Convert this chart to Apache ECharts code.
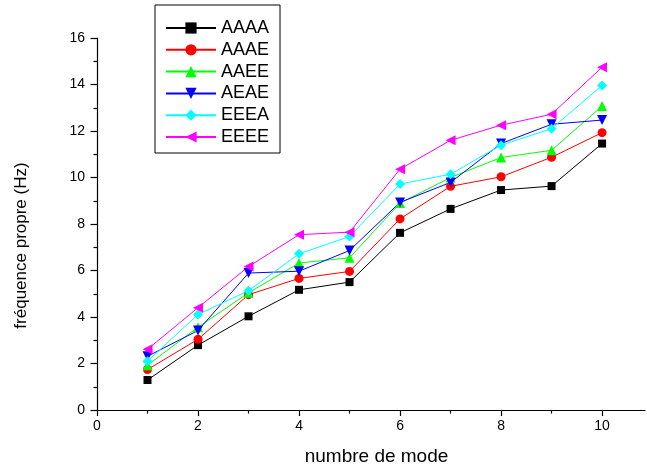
<!DOCTYPE html>
<html>
<head>
<meta charset="utf-8">
<script src="https://cdn.jsdelivr.net/npm/echarts@6/dist/echarts.min.js"></script>
<style>
  html, body { margin: 0; padding: 0; background: #fff; }
  #chart { width: 647px; height: 471px; }
</style>
</head>
<body>
<div id="chart"></div>
<script>
// Mode numbers on the x axis
const modes = [1, 2, 3, 4, 5, 6, 7, 8, 9, 10];

// Natural frequencies (Hz) for each configuration
const AAAA = [1.29, 2.79, 4.03, 5.17, 5.50, 7.62, 8.65, 9.46, 9.63, 11.46];
const AAAE = [1.74, 3.04, 4.96, 5.66, 5.96, 8.22, 9.62, 10.03, 10.87, 11.93];
const AAEE = [1.93, 3.56, 5.04, 6.32, 6.55, 8.90, 10.00, 10.86, 11.17, 13.07];
const AEAE = [2.31, 3.42, 5.89, 5.97, 6.86, 8.93, 9.79, 11.46, 12.29, 12.47];
const EEEA = [2.10, 4.11, 5.13, 6.72, 7.46, 9.72, 10.14, 11.39, 12.10, 13.96];
const EEEE = [2.61, 4.40, 6.17, 7.54, 7.65, 10.36, 11.60, 12.25, 12.72, 14.74];

// Axis tick values
const xTicks = [0, 2, 4, 6, 8, 10];
const yTicks = [0, 2, 4, 6, 8, 10, 12, 14, 16];

const FONT = 'Liberation Sans, Arial, sans-serif';

function pairs(ys) {
  return modes.map((m, i) => [m, ys[i]]);
}

function makeSeries(name, ys, color, symbol, size, rotate) {
  return {
    name: name,
    type: 'line',
    data: pairs(ys),
    symbol: symbol,
    symbolSize: size,
    symbolRotate: rotate || 0,
    showAllSymbol: true,
    animation: false,
    lineStyle: { color: color, width: 1 },
    itemStyle: { color: color, borderWidth: 0 },
    emphasis: { disabled: true }
  };
}

const chart = echarts.init(document.getElementById('chart'), null, { renderer: 'canvas' });

chart.setOption({
  backgroundColor: '#ffffff',
  animation: false,
  grid: { left: 97, top: 38, width: 548, height: 373.5, containLabel: false },
  legend: {
    orient: 'vertical',
    left: 155,
    top: 5,
    padding: [14, 11, 7, 10],
    borderColor: '#000',
    borderWidth: 1,
    itemWidth: 50,
    itemHeight: 14,
    itemGap: 3.8,
    textStyle: { fontFamily: FONT, fontSize: 18, color: '#000' },
    data: ['AAAA', 'AAAE', 'AAEE', 'AEAE', 'EEEA', 'EEEE']
  },
  xAxis: {
    type: 'value',
    min: 0,
    max: 10.85,
    interval: 2,
    name: 'numbre de mode',
    nameLocation: 'middle',
    nameGap: 37,
    nameTextStyle: { fontFamily: FONT, fontSize: 19, color: '#000', padding: [0, 0, 0, 11] },
    axisLine: { show: true, onZero: false, lineStyle: { color: '#000', width: 1.2 } },
    axisTick: { show: true, inside: false, length: 6, lineStyle: { color: '#000', width: 1.2 }, customValues: xTicks },
    minorTick: { show: true, splitNumber: 2, length: 3.5, lineStyle: { color: '#000', width: 1.2 } },
    axisLabel: { fontFamily: FONT, fontSize: 14, color: '#000', margin: 9, customValues: xTicks },
    splitLine: { show: false },
    minorSplitLine: { show: false }
  },
  yAxis: {
    type: 'value',
    min: 0,
    max: 16,
    interval: 2,
    name: 'fréquence propre (Hz)',
    nameLocation: 'middle',
    nameGap: 67,
    nameRotate: 90,
    nameTextStyle: { fontFamily: FONT, fontSize: 17, color: '#000', padding: [0, 43, 0, 0] },
    axisLine: { show: true, onZero: false, lineStyle: { color: '#000', width: 1.2 } },
    axisTick: { show: true, inside: false, length: 6.5, lineStyle: { color: '#000', width: 1.2 }, customValues: yTicks },
    minorTick: { show: true, splitNumber: 2, length: 3.5, lineStyle: { color: '#000', width: 1.2 } },
    axisLabel: { fontFamily: FONT, fontSize: 14, color: '#000', margin: 12, customValues: yTicks },
    splitLine: { show: false },
    minorSplitLine: { show: false }
  },
  series: [
    makeSeries('AAAA', AAAA, '#000000', 'rect', 8),
    makeSeries('AAAE', AAAE, '#ff0000', 'circle', 9),
    makeSeries('AAEE', AAEE, '#00ff00', 'triangle', 10),
    makeSeries('AEAE', AEAE, '#0000ff', 'triangle', 10, 180),
    makeSeries('EEEA', EEEA, '#00ffff', 'diamond', 10),
    makeSeries('EEEE', EEEE, '#ff00ff', 'triangle', 10, 90)
  ]
});
</script>
</body>
</html>
